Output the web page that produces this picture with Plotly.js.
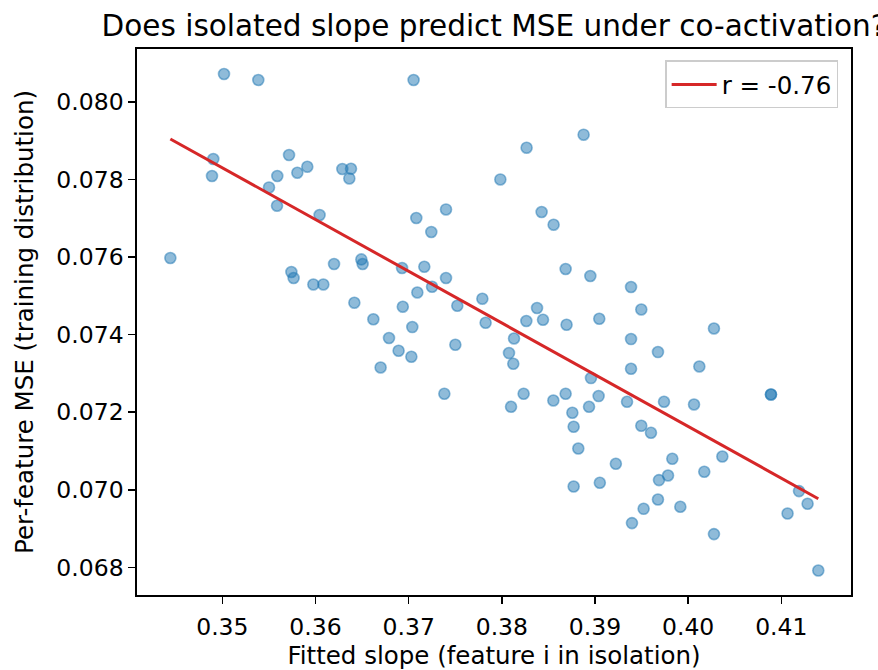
<!DOCTYPE html>
<html>
<head>
<meta charset="utf-8">
<script src="https://cdn.plot.ly/plotly-3.0.1.min.js"></script>
<style>
  html, body { margin: 0; padding: 0; background: #ffffff; }
  #chart { width: 878px; height: 670px; }
</style>
</head>
<body>
<div id="chart"></div>
<script>
// Fitted slope (feature i in isolation)
const slopeX = [
  0.35018, 0.35386, 0.34903, 0.34889, 0.34442, 0.35716, 0.35590, 0.35805, 0.35912, 0.35501,
  0.35587, 0.36044, 0.36288, 0.36381, 0.36363, 0.35741, 0.35765, 0.35977, 0.36084, 0.36199,
  0.36492, 0.36506, 0.36417, 0.36621, 0.37053, 0.38266, 0.38878, 0.37984, 0.37082, 0.37401,
  0.37243, 0.38427, 0.38556, 0.36929, 0.37168, 0.37401, 0.37093, 0.37251, 0.37522, 0.37791,
  0.36937, 0.38685, 0.38950, 0.38378, 0.37039, 0.36789, 0.36892, 0.37029, 0.36699, 0.37501,
  0.37383, 0.37826, 0.38263, 0.38442, 0.38695, 0.39046, 0.38131, 0.38077, 0.38123, 0.38957,
  0.38234, 0.38099, 0.38553, 0.38685, 0.39039, 0.38936, 0.38757, 0.38771, 0.38821, 0.39224,
  0.38771, 0.39052, 0.39497, 0.39387, 0.39676, 0.40277, 0.39387, 0.40120, 0.39344, 0.39741,
  0.40063, 0.40889, 0.40889, 0.39497, 0.39601, 0.40367, 0.39830, 0.39784, 0.39687, 0.40173,
  0.39676, 0.39522, 0.39916, 0.39397, 0.40277, 0.41190, 0.41282, 0.41067, 0.41397, 0.39387
];
// Per-feature MSE (training distribution)
const mseY = [
  0.080714, 0.080559, 0.078523, 0.078085, 0.075972, 0.078626, 0.078085, 0.078170, 0.078325, 0.077791,
  0.077320, 0.077080, 0.078265, 0.078273, 0.078023, 0.075611, 0.075456, 0.075291, 0.075291, 0.075817,
  0.075936, 0.075817, 0.074820, 0.074394, 0.080559, 0.078814, 0.079150, 0.077997, 0.077003, 0.077224,
  0.076642, 0.077157, 0.076830, 0.075714, 0.075747, 0.075456, 0.075085, 0.075232, 0.074742, 0.074923,
  0.074717, 0.075688, 0.075508, 0.074683, 0.074193, 0.073910, 0.073583, 0.073428, 0.073152, 0.073737,
  0.072474, 0.074304, 0.074348, 0.074381, 0.074253, 0.074407, 0.073899, 0.073523, 0.073247, 0.072879,
  0.072474, 0.072139, 0.072302, 0.072474, 0.072415, 0.072139, 0.071985, 0.071624, 0.071064, 0.070670,
  0.070085, 0.070180, 0.074647, 0.073884, 0.073549, 0.074157, 0.073119, 0.073178, 0.072268, 0.072268,
  0.072199, 0.072456, 0.072456, 0.071650, 0.071469, 0.070858, 0.070799, 0.070369, 0.070250, 0.070464,
  0.069750, 0.069510, 0.069562, 0.069142, 0.068858, 0.069966, 0.069639, 0.069389, 0.067920, 0.075224
];
// Regression line endpoints (as drawn)
const fitX = [0.34442, 0.41397];
const fitY = [0.07904, 0.06977];
const fitLabel = "r = -0.76";

const xTicks = [0.35, 0.36, 0.37, 0.38, 0.39, 0.40, 0.41];
const xTickText = ["0.35", "0.36", "0.37", "0.38", "0.39", "0.40", "0.41"];
const yTicks = [0.068, 0.070, 0.072, 0.074, 0.076, 0.078, 0.080];
const yTickText = ["0.068", "0.070", "0.072", "0.074", "0.076", "0.078", "0.080"];

const titleText = "Does isolated slope predict MSE under co-activation?";
const xTitle = "Fitted slope (feature i in isolation)";
const yTitle = "Per-feature MSE (training distribution)";

const FONT = "DejaVu Sans, Liberation Sans, sans-serif";
const TICK = 23.5, LABEL = 24.5, TITLE = 29.5;

const traces = [
  {
    type: "scatter",
    mode: "markers",
    x: slopeX,
    y: mseY,
    showlegend: false,
    hoverinfo: "skip",
    marker: {
      size: 11,
      color: "rgba(31,119,180,0.5)",
      line: { color: "rgba(31,119,180,0.5)", width: 1.6 }
    }
  },
  {
    type: "scatter",
    mode: "lines",
    x: fitX,
    y: fitY,
    name: fitLabel,
    line: { color: "#d62728", width: 3 }
  }
];

const layout = {
  width: 878,
  height: 670,
  paper_bgcolor: "#ffffff",
  plot_bgcolor: "#ffffff",
  margin: { l: 136.7, r: 27.3, t: 49.3, b: 74.7, pad: 0 },
  font: { family: FONT, size: TICK, color: "#000000" },
  title: {
    text: titleText,
    font: { family: FONT, size: TITLE, color: "#000000" },
    xref: "paper",
    x: 0.5,
    xanchor: "center",
    yref: "container",
    y: 0.962,
    yanchor: "middle"
  },
  xaxis: {
    range: [0.34084, 0.41748],
    tickmode: "array",
    tickvals: xTicks,
    ticktext: xTickText,
    ticks: "outside",
    ticklen: 7,
    tickwidth: 1.6,
    tickcolor: "#000000",
    ticklabelstandoff: 3,
    showline: true,
    linecolor: "#000000",
    linewidth: 1.7,
    mirror: true,
    showgrid: false,
    zeroline: false,
    tickfont: { family: FONT, size: TICK, color: "#000000" },
    title: { text: xTitle, font: { family: FONT, size: LABEL, color: "#000000" }, standoff: 7 }
  },
  yaxis: {
    range: [0.067289, 0.081358],
    tickmode: "array",
    tickvals: yTicks,
    ticktext: yTickText,
    ticks: "outside",
    ticklen: 7,
    tickwidth: 1.6,
    tickcolor: "#000000",
    showline: true,
    linecolor: "#000000",
    linewidth: 1.7,
    mirror: true,
    showgrid: false,
    zeroline: false,
    tickfont: { family: FONT, size: TICK, color: "#000000" },
    title: { text: yTitle, font: { family: FONT, size: LABEL, color: "#000000" }, standoff: 16 }
  },
  legend: {
    x: 0.982,
    xanchor: "right",
    y: 0.979,
    yanchor: "top",
    itemwidth: 45,
    bgcolor: "rgba(255,255,255,0.8)",
    bordercolor: "#cccccc",
    borderwidth: 1.5,
    font: { family: FONT, size: LABEL, color: "#000000" }
  },
  showlegend: true
};

Plotly.newPlot("chart", traces, layout, { displayModeBar: false, staticPlot: true });
</script>
</body>
</html>
